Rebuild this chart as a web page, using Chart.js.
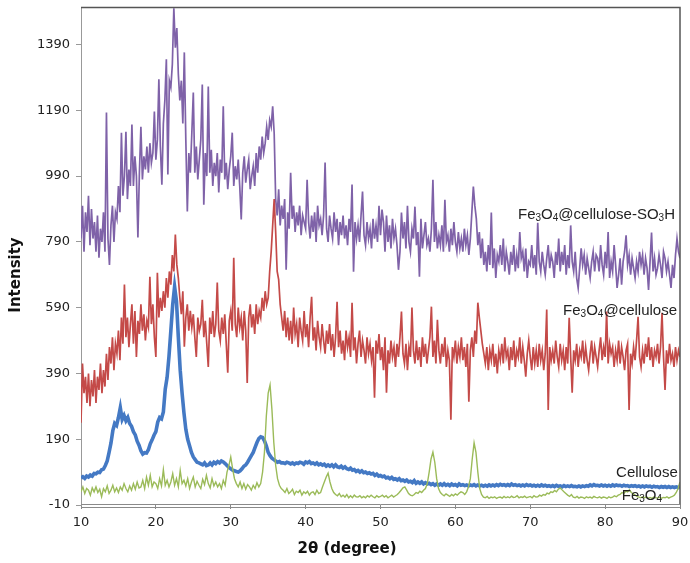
<!DOCTYPE html>
<html><head><meta charset="utf-8">
<script src="https://cdn.jsdelivr.net/npm/chart.js@4.4.1/dist/chart.umd.min.js"></script>
<style>html,body{margin:0;padding:0;background:#fff;}canvas{display:block;}</style>
</head><body>
<canvas id="c" width="690" height="563"></canvas>
<script>
// ---- data (2θ in degrees, intensity in counts) ----
const yTickValues = [-10, 190, 390, 590, 790, 990, 1190, 1390];
const xTickValues = [10, 20, 30, 40, 50, 60, 70, 80, 90];
const seriesNames = ["Fe3O4@cellulose-SO3H", "Fe3O4@cellulose", "Cellulose", "Fe3O4"];

// sampled every 0.2° from 10° to 90°
const sulfonatedValues = [
800,900,760,880,820, 930,780,890,800,850, 760,870,742,830,790, 880,760,1183,800,720,
840,900,790,880,860, 960,880,1122,930,990, 1125,920,1010,960,1147, 960,1050,990,803,1000,
1140,980,1050,1010,1080, 1000,1090,1030,1060,1186, 1040,1100,1284,1080,964, 1150,1220,1345,995,1280,
1260,1330,1500,1380,1440, 1300,1220,1280,1150,1366, 1100,882,1060,1000,1120, 1244,1000,1080,980,1040,
1100,1268,903,1060,990, 1262,1000,1070,960,1030, 990,1060,940,1040,1000, 1202,980,1030,950,1010,
1050,1122,960,1020,980, 1040,960,858,1000,1050, 970,1010,1040,950,990, 1020,960,1060,1000,1080,
1040,1110,1060,1090,1140, 1100,1160,1140,1202,1120, 920,870,950,840,900, 860,920,705,880,830,
1000,860,900,820,880, 840,900,810,870,850, 830,979,850,800,870, 820,880,790,900,840,
860,810,870,1031,830, 790,870,830,800,880, 820,860,780,850,810, 870,800,840,780,860,
820,964,699,850,800, 840,790,870,943,810, 780,850,800,830,770, 860,800,840,790,900,
810,888,850,760,870, 790,840,770,860,800, 830,780,705,760,879, 800,850,770,900,790,
760,830,800,897,780, 820,684,860,770,810, 850,780,800,760,830, 979,790,850,770,810,
780,840,760,918,790, 810,760,830,780,850, 790,760,820,770,800, 760,830,780,810,750,
800,880,958,900,860, 780,820,740,800,720, 760,700,780,720,879, 710,770,680,750,730,
780,720,800,700,760, 730,690,760,720,780, 700,750,710,820,740, 760,700,770,680,730,
720,780,710,750,690, 848,730,700,760,720, 690,740,780,710,750, 730,680,760,720,800,
700,760,720,780,690, 750,710,840,730,700, 760,680,650,710,770, 720,750,690,740,710,
680,730,760,700,750, 740,700,780,720,690, 760,710,820,680,730, 700,780,720,650,690,
740,660,730,760,810, 720,750,690,740,710, 680,730,700,760,720, 750,690,740,710,644,
730,818,700,740,690, 710,750,720,680,760, 740,700,730,690,650, 720,680,750,800,760,
740
];

// sampled every 0.2° from 10° to 90°
const compositeValues = [
240,420,330,380,300, 390,290,370,320,400, 300,380,340,420,330, 400,350,450,370,470,
420,500,400,480,450, 520,430,560,480,660, 500,560,470,540,600, 480,580,440,550,510,
600,520,570,490,550, 530,684,540,600,500, 440,696,560,620,580, 640,590,680,620,700,
660,750,700,812,720, 680,620,570,640,471, 560,600,520,580,530, 570,500,440,560,520,
540,614,500,550,480, 410,560,510,580,500, 540,666,520,490,560, 510,570,480,392,550,
580,520,742,540,500, 590,530,560,490,580, 520,361,560,600,530, 570,510,600,540,580,
560,620,580,640,600, 620,700,760,840,920, 820,700,675,600,560, 520,580,500,560,490,
550,480,590,510,540, 470,560,520,490,580, 500,540,470,560,623, 490,530,460,550,500,
470,540,490,450,520, 480,540,460,510,440, 500,608,470,520,450, 490,430,520,470,500,
440,605,460,500,420, 480,520,440,490,460, 420,500,450,480,430, 470,316,490,450,510,
430,470,400,500,331, 460,420,490,440,470, 410,480,440,500,578, 450,420,480,400,470,
440,590,460,420,490, 430,470,410,500,440, 480,420,460,500,593, 440,490,420,553,460,
420,480,440,500,410, 460,430,249,470,440, 490,420,470,440,500, 430,470,410,480,304,
460,500,440,520,480, 605,560,520,480,450, 420,470,400,460,430, 480,410,450,390,460,
430,480,420,500,440, 460,400,470,430,490, 410,460,440,500,420, 470,430,380,450,490,
440,400,470,420,460, 410,480,430,460,400, 450,584,279,470,430, 460,420,490,440,410,
480,430,460,400,470, 420,559,440,331,460, 430,480,410,460,440, 490,420,470,430,400,
450,490,420,470,440, 410,460,500,430,470, 440,578,420,480,450, 470,410,460,430,490,
420,470,440,400,460, 480,279,450,420,470, 430,490,562,440,410, 460,420,480,440,500,
430,470,410,460,440, 480,420,470,574,440, 340,460,420,480,430, 450,410,470,430,460,
440
];

// sampled every 0.25° from 10° to 90°
const celluloseValues = [
72,76,71,78, 75,81,78,86, 85,90,89,97, 99,110,124,150, 178,216,238,232,
256,286,250,262, 246,256,238,229, 213,203,184,172, 155,145,149,148, 158,176,188,202,
213,242,256,252, 273,342,378,442, 520,600,654,610, 500,400,330,270, 220,190,170,150,
136,128,120,118, 115,112,118,110, 112,118,112,120, 116,122,118,124, 121,116,110,104,
100,96,94,92, 90,94,100,108, 112,120,130,140, 150,165,180,192, 197,195,185,170,
150,140,132,128, 124,120,122,118, 118,116,120,118, 115,118,114,118, 116,120,118,114,
121,118,122,116, 118,114,118,112, 115,111,114,108, 112,108,112,106, 112,106,104,108,
102,106,100,98, 102,96,98,92, 95,90,94,88, 90,86,88,84, 86,80,84,78,
80,76,78,72, 74,70,74,68, 70,66,70,64, 66,62,66,60, 62,58,64,56,
60,56,60,54, 58,54,56,52, 55,50,54,50, 54,50,55,50, 53,49,54,50,
52,48,54,50, 52,49,51,48, 51,49,52,48, 51,48,50,47, 50,47,51,48,
51,48,52,49, 53,50,52,49, 52,49,54,50, 52,49,51,48, 51,48,52,49,
51,48,50,47, 50,47,51,48, 50,47,49,46, 49,46,50,47, 48,45,49,46,
48,46,49,46, 47,45,48,45, 48,46,49,47, 51,48,52,49, 50,48,51,48,
50,47,50,47, 51,48,51,49, 50,47,50,48, 49,46,49,47, 49,46,48,45,
48,45,48,46, 47,44,47,45, 46,43,46,44, 46,43,46,43, 45,43,45,43,
46
];

// sampled every 0.25° from 10° to 90°
const magnetiteValues = [
30,45,25,40, 35,20,42,30, 45,28,38,15, 40,30,48,25, 35,50,30,42,
28,45,35,55, 40,30,48,35, 55,38,60,42, 45,65,40,75, 50,80,45,60,
55,40,70,48, 97,50,65,45, 60,85,50,70, 45,95,55,65, 48,70,40,60,
75,45,62,50, 40,68,52,80, 55,42,70,48, 60,45,55,40, 65,50,90,110,
136,100,70,55, 45,60,40,55, 38,52,45,35, 50,40,58,45, 55,90,150,260,
330,355,280,180, 110,70,50,40, 35,28,40,25, 30,38,22,32, 28,35,20,30,
25,32,20,28, 30,22,35,25, 28,45,60,75, 87,60,40,28, 22,18,25,15,
20,14,22,12, 18,12,20,15, 14,18,12,16, 12,18,14,20, 15,12,18,14,
16,20,14,18, 12,16,20,14, 18,22,28,35, 42,45,35,25, 20,18,22,28,
25,32,28,35, 40,55,90,130, 151,120,70,40, 28,22,18,24, 20,16,22,18,
24,20,26,30, 28,22,30,45, 70,130,179,150, 90,40,22,14, 12,16,10,14,
12,15,10,13, 14,11,16,12, 15,12,17,13, 14,18,12,15, 13,17,12,14,
16,12,18,14, 15,20,17,22, 20,26,24,30, 28,34,30,38, 42,36,30,25,
20,16,22,14, 12,16,11,14, 13,10,15,12, 14,11,16,13, 12,15,11,14,
13,10,15,12, 14,18,15,20, 22,28,25,32, 30,36,28,24, 20,16,14,12,
15,12,14,11, 13,10,14,12, 11,14,10,13, 12,15,11,14, 16,20,28,40,
60
];

// ---- build points on the 2θ grid ----
function toPoints(values, start, step) {
  return values.map((v, i) => ({ x: +(start + i * step).toFixed(2), y: v }));
}

const labelSpecs = [
  { parts: [["Fe",0],["3",1],["O",0],["4",1],["@cellulose-SO",0],["3",1],["H",0]], x: 89.33, y: 861 },
  { parts: [["Fe",0],["3",1],["O",0],["4",1],["@cellulose",0]], x: 89.6, y: 568 },
  { parts: [["Cellulose",0]], x: 89.7, y: 75 },
  { parts: [["Fe",0],["3",1],["O",0],["4",1]], x: 87.6, y: 5 }
];

const framePlugin = {
  id: 'frame',
  afterDraw(chart) {
    const ctx = chart.ctx, a = chart.chartArea;
    const xs = chart.scales.x, ys = chart.scales.y;
    ctx.save();
    ctx.strokeStyle = '#555';
    ctx.lineWidth = 1.5;
    ctx.beginPath();
    ctx.moveTo(a.left, a.top + 0.5);
    ctx.lineTo(a.right, a.top + 0.5);
    ctx.lineTo(a.right, a.bottom);
    ctx.stroke();
    ctx.strokeStyle = '#8a8a8a';
    ctx.lineWidth = 1;
    ctx.beginPath();
    ctx.moveTo(a.left, a.bottom - 0.5); ctx.lineTo(a.right, a.bottom - 0.5);
    ctx.moveTo(a.left, a.bottom + 2.5); ctx.lineTo(a.right, a.bottom + 2.5);
    ctx.stroke();
    ctx.fillStyle = '#111';
    ctx.font = 'bold 15px "DejaVu Sans"';
    ctx.textAlign = 'center';
    ctx.textBaseline = 'middle';
    ctx.fillText('2θ (degree)', 347, 549);
    ctx.translate(16, 275);
    ctx.rotate(-Math.PI / 2);
    ctx.fillText('Intensity', 0, 0);
    ctx.setTransform(1, 0, 0, 1, 0, 0);
    ctx.fillStyle = '#222';
    ctx.textAlign = 'left';
    ctx.textBaseline = 'alphabetic';
    const big = '15px "Liberation Sans", Arial, sans-serif';
    const small = '10px "Liberation Sans", Arial, sans-serif';
    labelSpecs.forEach(l => {
      let w = 0;
      l.parts.forEach(p => { ctx.font = p[1] ? small : big; w += ctx.measureText(p[0]).width; });
      let px = xs.getPixelForValue(l.x) - w;
      const py = ys.getPixelForValue(l.y);
      l.parts.forEach(p => {
        ctx.font = p[1] ? small : big;
        ctx.fillText(p[0], px, py + (p[1] ? 2 : 0));
        px += ctx.measureText(p[0]).width;
      });
    });
    ctx.restore();
  }
};

const tickFont = { family: 'DejaVu Sans', size: 13 };

new Chart(document.getElementById('c').getContext('2d'), {
  type: 'line',
  data: {
    datasets: [
      { label: seriesNames[3], data: toPoints(magnetiteValues, 10, 0.25), borderColor: '#9bbb59', borderWidth: 1.4 },
      { label: seriesNames[2], data: toPoints(celluloseValues, 10, 0.25), borderColor: '#4479c4', borderWidth: 3.6 },
      { label: seriesNames[1], data: toPoints(compositeValues, 10, 0.2), borderColor: '#c44a48', borderWidth: 1.7 },
      { label: seriesNames[0], data: toPoints(sulfonatedValues, 10, 0.2), borderColor: '#7f62a8', borderWidth: 1.7 }
    ]
  },
  options: {
    responsive: false,
    animation: false,
    devicePixelRatio: 1,
    layout: { padding: { top: 7, right: 10, left: 0, bottom: 0 } },
    plugins: { legend: { display: false }, tooltip: { enabled: false } },
    elements: { point: { radius: 0 }, line: { tension: 0 } },
    scales: {
      x: {
        type: 'linear', min: 10, max: 90,
        afterBuildTicks(s) { s.ticks = xTickValues.map(v => ({ value: v })); },
        ticks: { font: tickFont, color: '#222', padding: 6, maxRotation: 0, callback: v => String(v) },
        grid: { drawOnChartArea: false, drawTicks: true, tickLength: 4, color: '#888' },
        border: { display: false },
        afterFit(s) { s.height = 58; s.paddingLeft = 0; s.paddingRight = 0; }
      },
      y: {
        type: 'linear', min: -10, max: 1504,
        afterBuildTicks(s) { s.ticks = yTickValues.map(v => ({ value: v })); },
        ticks: { font: tickFont, color: '#222', padding: 6, callback: v => String(v) },
        grid: { drawOnChartArea: false, drawTicks: true, tickLength: 5, color: '#999' },
        border: { display: true, color: '#999', width: 1 },
        afterFit(s) { s.width = 81; s.paddingTop = 0; s.paddingBottom = 0; }
      }
    }
  },
  plugins: [framePlugin]
});
</script>
</body></html>
